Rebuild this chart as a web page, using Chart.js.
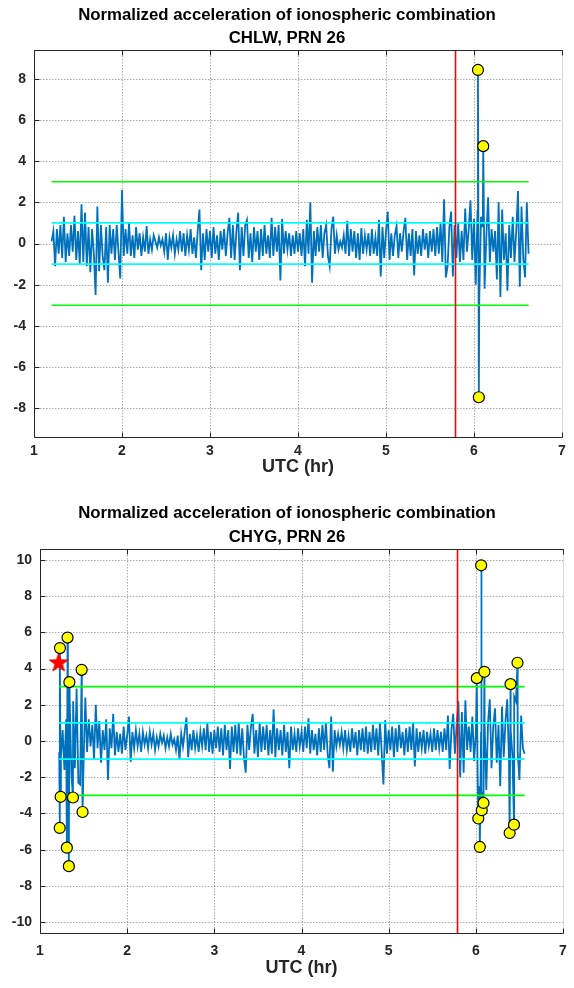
<!DOCTYPE html>
<html lang="en">
<head>
<meta charset="UTF-8">
<title>Normalized acceleration of ionospheric combination</title>
<script src="https://cdn.jsdelivr.net/npm/chart.js"></script>
<style>
  body { margin: 0; background: #fff; }
  .box { position: absolute; left: 0; width: 574px; height: 490px; }
</style>
</head>
<body>
<div class="box" style="top:0"><canvas id="chartTop"></canvas></div>
<div class="box" style="top:498px"><canvas id="chartBottom"></canvas></div>
<script>
// axis ticks and reference levels
const xTickValues = [1, 2, 3, 4, 5, 6, 7];
const chlwYTicks = [-8, -6, -4, -2, 0, 2, 4, 6, 8];
const chygYTicks = [-10, -8, -6, -4, -2, 0, 2, 4, 6, 8, 10];
const outerLimit = [-3, 3];
const innerLimit = [-1, 1];
const slipTime = 5.79;

// CHLW, PRN 26 : samples every 0.02 h from 1.20 h
const chlwStart = 1.20, chlwStep = 0.02;
const chlwValues = [
  0.1, 0.6, -1.1, 0.7, -0.5, 0.9, -0.7, 1.3, -0.9, 0.5, -0.6, 0.9, -0.4, 1.35, -0.8, 0.6, -1.0, 1.9, -0.9, 1.5, -1.1, 0.8, -1.4, 0.7, -0.5,
  -2.5, 1.8, -1.35, 0.9, -0.6, -1.3, 0.8, -1.9, 0.9, -0.5, 0.7, -0.8, 0.9, -0.4, -1.7, 2.6, -0.6, 0.7, -0.5, 1.0, -0.6, 0.4, -0.7, 0.8, -0.3,
  0.5, -0.6, 0.3, -0.4, 0.85, -0.5, 0.2, -0.3, 0.4, 0.1, -0.2, 0.3, -0.1, 0.2, -0.4, 0.5, -0.8, 0.3, -0.2, 0.4, -0.5, 0.2, -0.3, 0.6, -0.4,
  0.5, -0.6, 0.4, -0.3, 0.7, -0.5, 0.3, -0.7, 0.6, 1.65, -1.3, 0.5, -0.8, 0.7, -0.4, 0.6, -0.7, 0.8, -0.5, 0.4, -0.8, 0.6, -0.3, 0.7, -0.6,
  0.5, 1.25, -0.7, 0.9, -0.8, 0.6, 1.5, -1.3, 0.8, -0.6, 0.9, 1.15, -0.7, 0.5, -0.9, 0.8, -0.4, 0.6, -0.8, 0.7, -0.6, 0.9, -0.5, 0.4, -0.7,
  1.25, -0.6, 0.8, -0.4, 0.9, -1.8, 1.2, -0.5, 0.6, -0.3, 0.5, -0.6, 0.4, -0.5, 0.6, -0.4, 0.5, -0.6, 0.7, -1.1, 1.15, -0.5, 2.0, -1.9, 0.6,
  -0.6, 0.8, -0.4, 0.9, -0.7, 0.5, 0.9, -0.6, -1.1, 0.7, 1.3, -0.5, 0.4, -0.3, 0.1, -0.2, 0.4, -0.5, 1.1, -0.6, 0.7, -0.4, 0.6, -0.7, 0.5,
  -0.8, 0.75, -0.5, 0.4, -0.3, 0.5, -0.6, 0.7, -0.5, 0.3, -0.6, 1.15, -1.6, 0.8, -0.7, 0.6, 1.55, -0.8, 0.5, -0.6, 0.4, 0.85, -0.7, 0.5, -0.4,
  0.6, 1.25, -0.8, 0.5, -0.6, 0.7, -1.55, 0.6, -0.5, 0.4, -0.6, 0.7, -0.3, 0.5, -0.7, 0.6, -0.4, 0.7, -0.6, 0.8, -0.5, 1.0, -0.9, 2.15, -1.65,
  -1.1, 0.8, 1.55, -1.6, 0.9, -0.7, 1.0, -0.9, 0.6, -0.8, 1.7, -0.4, 0.7, 2.1, -0.8, 1.2, -2.0, 1.6, -2.6, 1.3, 0.8, -2.2, 0.3, 2.25, -0.9,
  0.7, -0.4, 0.6, -1.75, 2.0, -2.6, 1.65, -0.8, 0.5, -2.3, 0.9, -0.7, 1.3, -0.9, 0.6, 2.55, -2.1, 1.8, -0.7, -1.65, 2.0, -0.5
];
const chlwFlagTime = [6.045, 6.055, 6.105];
const chlwFlagValue = [8.43, -7.47, 4.73];

// CHYG, PRN 26 : samples every 0.02 h from 1.22 h
const chygStart = 1.22, chygStep = 0.02;
const chygValues = [
  -0.6, -0.9, 0.6, -1.6, 1.2, -2.0, 2.4, -1.8, 2.2, -1.5, 2.9, -2.3, -2.4, 2.3, -1.2, 2.4, -0.6, 1.2, -0.3, 0.9, -1.0, 2.0, -0.4, 1.1, -1.2,
  0.6, -0.5, 1.2, -2.15, 0.7, -0.4, 1.5, -0.8, 0.5, -0.6, 0.4, -0.7, 0.8, -0.5, 0.3, 1.35, -1.15, 0.5, -0.4, 0.6, -0.3, 0.4, -0.6, 0.5, -0.2,
  0.3, -0.4, 0.5, -0.2, 0.4, -0.5, 0.2, -0.3, 0.4, -0.1, 0.3, -0.4, 0.2, -0.3, 0.4, -0.2, 0.1, -0.5, 0.3, -1.05, 0.4, -0.3, 0.5, 1.3, -0.9,
  0.4, -0.5, 0.6, -0.4, 0.3, -0.6, 0.5, -0.3, 0.7, -0.5, 1.0, -0.6, 0.5, -0.7, 0.6, -0.4, 0.8, -0.6, 0.7, -0.8, 0.9, -0.5, 0.6, -1.55, 0.8,
  -0.6, 0.9, -0.7, 1.0, -0.8, 0.7, -0.9, -1.75, 0.9, -0.5, 0.8, 1.5, -0.7, 0.6, -0.9, 1.0, -0.6, 0.8, -0.5, 0.9, -0.8, 0.6, -0.7, 1.75, -0.9,
  0.7, -0.5, 0.6, -0.8, 0.9, -0.6, 0.5, -1.5, 0.8, -0.5, 0.4, -0.6, 0.7, -0.3, 0.5, -0.6, 0.8, -0.4, 1.25, -0.7, 0.6, -0.5, 0.4, -0.8, 0.7,
  -0.6, 0.9, -0.5, 1.0, -0.7, -1.5, 1.35, -1.7, 0.6, -0.3, 0.4, -0.2, 0.5, -0.4, 0.6, -0.5, 0.3, -0.6, 0.7, -0.4, 0.5, -0.8, 0.6, -0.5, 0.7,
  -0.6, 0.8, -0.7, 0.5, -0.6, 0.9, -0.5, 0.7, -0.8, 1.0, -0.6, -2.4, 1.15, -0.7, 0.6, -0.5, 0.8, -0.9, 0.7, -0.6, 0.9, -0.4, 0.5, -0.8, 0.7,
  -0.6, 0.8, -0.5, 1.0, -1.4, 0.7, -0.6, 0.5, -0.4, 0.6, -0.7, 0.5, -0.3, 0.4, -0.6, 0.7, -0.5, 0.6, -0.4, 0.5, -0.6, 0.7, -0.5, 1.4, -1.55,
  0.6, 1.5, -0.7, 0.9, 2.2, -2.0, 1.6, -1.75, 2.25, -0.5, 0.8, -0.6, 1.35, -1.1, 0.4, -1.5, -2.5, 0.5, -2.8, 1.2, -2.7, 1.0, 2.3, -1.5, 0.8,
  1.8, -1.2, 0.9, -2.5, 1.9, -0.9, 1.1, 2.3, -1.0, 0.6, -0.8, 2.45, 2.2, -0.6, -2.15, 1.4, -0.4, -0.7
];
const chygFlagTime = [1.226, 1.229, 1.237, 1.308, 1.316, 1.331, 1.337, 1.378, 1.478, 1.488,
  6.011, 6.028, 6.046, 6.061, 6.068, 6.088, 6.098, 6.388, 6.398, 6.438, 6.478];
const chygFlagValue = [-4.80, 5.13, -3.08, -5.89, 5.71, -6.91, 3.25, -3.12, 3.93, -3.92,
  3.47, -4.28, -5.85, 9.70, -3.82, -3.42, 3.82, -5.08, 3.14, -4.62, 4.32];
const chygStarTime = [1.214];
const chygStarValue = [4.36];

const FONT = "'Liberation Sans', Arial, sans-serif";
const AXIS = '#262626';

function toPoints(times, values) {
  return times.map((t, i) => ({ x: t, y: values[i] }));
}

function buildSeries(start, step, values, extraT, extraV) {
  const pts = values.map((v, i) => ({ x: +(start + i * step).toFixed(3), y: v }));
  return pts.concat(toPoints(extraT, extraV)).sort((a, b) => a.x - b.x);
}

function makeStar(size) {
  const c = document.createElement('canvas');
  c.width = c.height = size;
  const g = c.getContext('2d');
  g.beginPath();
  for (let k = 0; k < 10; k++) {
    const r = k % 2 ? size * 0.2 : size * 0.5;
    const a = -Math.PI / 2 + k * Math.PI / 5;
    g.lineTo(size / 2 + r * Math.cos(a), size / 2 + 1 + r * Math.sin(a));
  }
  g.closePath();
  g.fillStyle = '#ff0000';
  g.fill();
  g.strokeStyle = '#e00000';
  g.lineWidth = 0.8;
  g.stroke();
  return c;
}

// MATLAB-like axes: dotted grid, black box, inward ticks
const matlabAxes = {
  id: 'matlabAxes',
  beforeDatasetsDraw(chart) {
    const { ctx, chartArea: a, scales: { x, y } } = chart;
    ctx.save();
    ctx.strokeStyle = 'rgba(0,0,0,0.33)';
    ctx.lineWidth = 1;
    ctx.setLineDash([1.5, 1.5]);
    ctx.beginPath();
    x.ticks.forEach(t => {
      const px = Math.round(x.getPixelForValue(t.value)) + 0.5;
      ctx.moveTo(px, a.top); ctx.lineTo(px, a.bottom);
    });
    y.ticks.forEach(t => {
      const py = Math.round(y.getPixelForValue(t.value)) + 0.5;
      ctx.moveTo(a.left, py); ctx.lineTo(a.right, py);
    });
    ctx.stroke();
    ctx.restore();
  },
  afterDatasetsDraw(chart) {
    const { ctx, chartArea: a, scales: { x, y } } = chart;
    const L = Math.round(a.left) + 0.5, R = Math.round(a.right) + 0.5;
    const T = Math.round(a.top) + 0.5, B = Math.round(a.bottom) + 0.5;
    ctx.save();
    ctx.lineWidth = 1;
    ctx.strokeStyle = '#d9d9d9';
    ctx.beginPath(); ctx.moveTo(R, T); ctx.lineTo(R, B); ctx.stroke();
    ctx.strokeStyle = AXIS;
    ctx.beginPath();
    ctx.moveTo(L, T); ctx.lineTo(R, T);
    ctx.moveTo(L, T); ctx.lineTo(L, B); ctx.lineTo(R, B);
    x.ticks.forEach(t => {
      const px = Math.round(x.getPixelForValue(t.value)) + 0.5;
      ctx.moveTo(px, B); ctx.lineTo(px, B - 5);
      ctx.moveTo(px, T); ctx.lineTo(px, T + 5);
    });
    y.ticks.forEach(t => {
      const py = Math.round(y.getPixelForValue(t.value)) + 0.5;
      ctx.moveTo(L, py); ctx.lineTo(L + 5, py);
    });
    ctx.stroke();
    ctx.restore();
  }
};

function makeChart(id, cfg) {
  const series = buildSeries(cfg.start, cfg.step, cfg.values, cfg.flagT, cfg.flagV);
  const t0 = series[0].x, t1 = series[series.length - 1].x;
  const level = (v, color) => ({
    data: [{ x: t0, y: v }, { x: t1, y: v }],
    showLine: true, borderColor: color, borderWidth: 1.7, pointRadius: 0, order: 2
  });
  const datasets = [
    { data: series, showLine: true, borderColor: '#0072bd', borderWidth: 1.8, pointRadius: 0, order: 4 },
    level(outerLimit[0], '#00ff00'), level(outerLimit[1], '#00ff00'),
    level(innerLimit[0], '#00ffff'), level(innerLimit[1], '#00ffff'),
    { data: [{ x: slipTime, y: cfg.yMin }, { x: slipTime, y: cfg.yMax }], showLine: true,
      borderColor: '#ff0000', borderWidth: 1.6, pointRadius: 0, order: 1 },
    { data: toPoints(cfg.flagT, cfg.flagV), showLine: false, pointStyle: 'circle', pointRadius: 5.5,
      backgroundColor: '#ffff00', borderColor: '#000000', borderWidth: 1.2, order: 0 }
  ];
  if (cfg.starT) {
    datasets.push({ data: toPoints(cfg.starT, cfg.starV), showLine: false, pointStyle: makeStar(20), order: 0 });
  }
  return new Chart(document.getElementById(id), {
    type: 'scatter',
    data: { datasets },
    plugins: [matlabAxes],
    options: {
      responsive: true,
      maintainAspectRatio: false,
      animation: false,
      events: [],
      layout: { padding: 0 },
      plugins: {
        legend: { display: false },
        tooltip: { enabled: false },
        title: {
          display: true,
          text: ['Normalized acceleration of ionospheric combination', cfg.name],
          color: '#000000',
          font: { family: FONT, size: 16.8, weight: 'bold', lineHeight: cfg.titleLine + 'px' },
          padding: { top: cfg.titleTop, bottom: cfg.titleBottom }
        }
      },
      scales: {
        x: {
          type: 'linear', min: 1, max: 7,
          afterBuildTicks: s => { s.ticks = xTickValues.map(v => ({ value: v })); },
          afterFit: s => { s.height = cfg.xHeight; },
          // invisible tick marks only push the labels down
          grid: { display: false, drawTicks: cfg.xTickGap > 0, tickLength: cfg.xTickGap },
          border: { display: false },
          ticks: { color: AXIS, font: { family: FONT, size: 14, weight: 'bold' }, padding: 6, maxRotation: 0 },
          title: { display: true, text: 'UTC (hr)', color: AXIS,
            font: { family: FONT, size: 18, weight: 'bold' }, padding: { top: 0, bottom: cfg.xTitleBottom } }
        },
        y: {
          type: 'linear', min: cfg.yMin, max: cfg.yMax,
          afterBuildTicks: s => { s.ticks = cfg.yTicks.map(v => ({ value: v })); },
          afterFit: s => { s.width = cfg.yWidth; },
          grid: { display: false, drawTicks: false },
          border: { display: false },
          ticks: { color: AXIS, font: { family: FONT, size: 14, weight: 'bold' }, padding: 8 }
        },
        // empty right-hand box so the plot ends short of the canvas edge
        yRight: {
          type: 'linear', position: 'right',
          afterFit: s => { s.width = cfg.rightPad; },
          grid: { display: false, drawTicks: false },
          border: { display: false },
          ticks: { display: false }
        }
      }
    }
  });
}

makeChart('chartTop', {
  name: 'CHLW, PRN 26', start: chlwStart, step: chlwStep, values: chlwValues,
  flagT: chlwFlagTime, flagV: chlwFlagValue, yTicks: chlwYTicks, yMin: -9.4, yMax: 9.4,
  yWidth: 34, rightPad: 12, xHeight: 53, xTickGap: 0, xTitleBottom: 12, titleLine: 23, titleTop: 4, titleBottom: 0
});

makeChart('chartBottom', {
  name: 'CHYG, PRN 26', start: chygStart, step: chygStep, values: chygValues,
  flagT: chygFlagTime, flagV: chygFlagValue, starT: chygStarTime, starV: chygStarValue,
  yTicks: chygYTicks, yMin: -10.6, yMax: 10.6,
  yWidth: 40, rightPad: 11, xHeight: 55, xTickGap: 4, xTitleBottom: 9, titleLine: 24, titleTop: 3, titleBottom: 0
});
</script>
</body>
</html>
